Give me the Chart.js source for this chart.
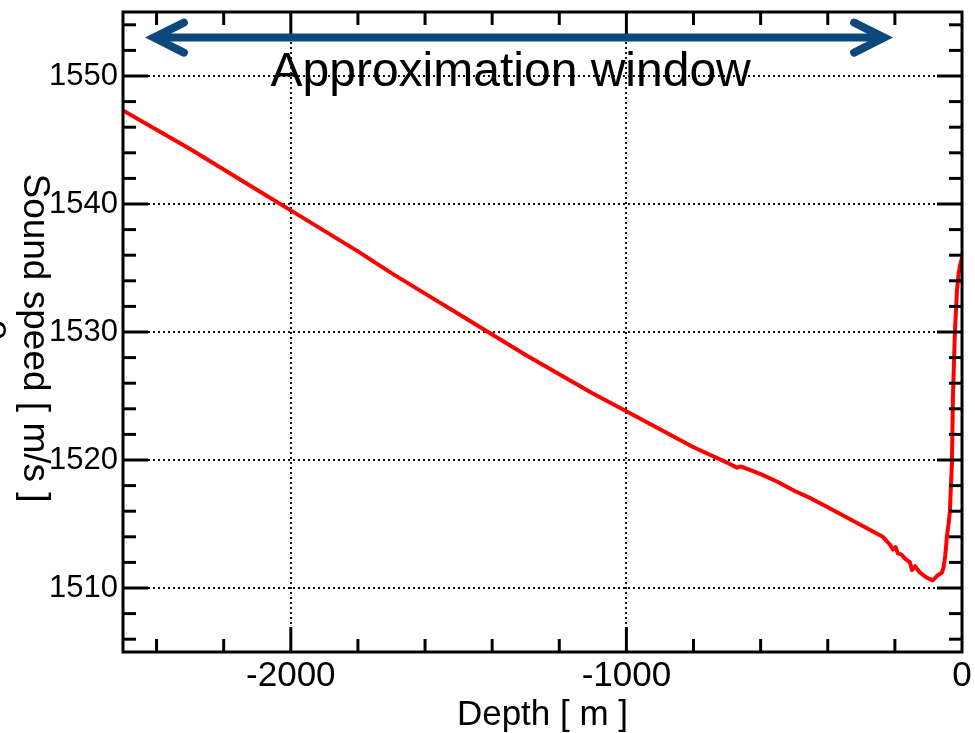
<!DOCTYPE html>
<html>
<head>
<meta charset="utf-8">
<title>Sound speed profile</title>
<script src="https://cdn.jsdelivr.net/npm/chart.js@4.4.0/dist/chart.umd.min.js"></script>
<style>
    body { margin: 0; background: #fff; overflow: hidden; }
    canvas { display: block; }
</style>
</head>
<body>
<canvas id="myChart" width="975" height="733"></canvas>
<script>

// depth [m] and sound speed [m/s]
const depth = [
    -2500, -2400, -2300, -2200, -2100, -2000, -1900, -1800, -1700, -1600,
    -1500, -1400, -1300, -1200, -1100, -1000, -900, -800, -700, -670,
    -660, -650, -640, -600, -550, -500, -450, -400, -350, -300,
    -250, -236, -215, -206, -198, -191, -180, -170, -155, -149,
    -140, -125, -104, -87, -72, -60, -55, -50, -45, -40,
    -36, -33, -30, -27, -21, -15, -10, -5, 0
];
const sound_speed = [
    1547.3, 1545.8, 1544.3, 1542.7, 1541.1, 1539.5, 1537.9, 1536.3, 1534.6, 1533.0,
    1531.4, 1529.8, 1528.2, 1526.7, 1525.2, 1523.8, 1522.4, 1521.0, 1519.8, 1519.4,
    1519.5, 1519.4, 1519.3, 1518.9, 1518.3, 1517.6, 1517.0, 1516.3, 1515.6, 1514.9,
    1514.2, 1514.0, 1513.4, 1513.0, 1513.2, 1512.7, 1512.6, 1512.3, 1512.0, 1511.4,
    1511.7, 1511.2, 1510.8, 1510.6, 1511.0, 1511.2, 1511.6, 1512.5, 1514.0, 1515.0,
    1516.0, 1518.0, 1519.8, 1524.9, 1530.1, 1533.2, 1534.6, 1535.3, 1535.8
];

const x_ticks = [-2000, -1000, 0];
const y_ticks = [1510, 1520, 1530, 1540, 1550];

// the approximation window arrow and its label
const window_from = -2408;
const window_to = -232;
const window_level = 1553;
const window_label = 'Approximation window';
const window_label_x = -1345;
const window_label_y = 1549.2;

const font_family = '"Liberation Sans", Arial, Helvetica, sans-serif';

function mark_line(ctx, x1, y1, x2, y2) {
    ctx.beginPath();
    ctx.moveTo(x1, y1);
    ctx.lineTo(x2, y2);
    ctx.stroke();
}

// frame, inward ticks, arrow, texts
const decorations = {
    id: 'decorations',
    afterDraw(chart) {
        const ctx = chart.ctx;
        const area = chart.chartArea;
        const xs = chart.scales.x;
        const ys = chart.scales.y;

        ctx.save();
        ctx.strokeStyle = '#000';
        ctx.lineWidth = 3;
        ctx.lineCap = 'butt';

        // x ticks on bottom and top
        for (let v = -2400; v < 0; v += 200) {
            const px = xs.getPixelForValue(v);
            const len = (v % 1000 === 0) ? 25 : 13;
            mark_line(ctx, px, area.bottom, px, area.bottom - len);
            mark_line(ctx, px, area.top, px, area.top + len);
        }
        // y ticks on left and right
        for (let v = 1506; v <= 1554; v += 2) {
            const py = ys.getPixelForValue(v);
            const len = (v % 10 === 0) ? 25 : 13;
            mark_line(ctx, area.left, py, area.left + len, py);
            mark_line(ctx, area.right, py, area.right - len, py);
        }

        ctx.strokeRect(area.left, area.top, area.right - area.left, area.bottom - area.top);

        // double arrow
        const ax1 = xs.getPixelForValue(window_from);
        const ax2 = xs.getPixelForValue(window_to);
        const ay = ys.getPixelForValue(window_level);
        ctx.strokeStyle = '#0c487c';
        ctx.lineWidth = 8;
        ctx.lineCap = 'round';
        ctx.lineJoin = 'miter';
        mark_line(ctx, ax1 + 4, ay, ax2 - 4, ay);
        ctx.beginPath();
        ctx.moveTo(ax1 + 30, ay - 15);
        ctx.lineTo(ax1, ay);
        ctx.lineTo(ax1 + 30, ay + 15);
        ctx.stroke();
        ctx.beginPath();
        ctx.moveTo(ax2 - 30, ay - 15);
        ctx.lineTo(ax2, ay);
        ctx.lineTo(ax2 - 30, ay + 15);
        ctx.stroke();

        ctx.fillStyle = '#000';
        ctx.font = '48px ' + font_family;
        ctx.textAlign = 'center';
        ctx.textBaseline = 'alphabetic';
        ctx.fillText(window_label, xs.getPixelForValue(window_label_x), ys.getPixelForValue(window_label_y));

        // y axis title, reading top to bottom
        ctx.font = '37px ' + font_family;
        ctx.save();
        ctx.translate(24, 338);
        ctx.rotate(Math.PI / 2);
        ctx.fillText('Sound speed [ m/s ]', 0, 0);
        ctx.restore();
        // clipped letter at the very left edge
        ctx.save();
        ctx.translate(-14, 330);
        ctx.rotate(Math.PI / 2);
        ctx.fillText('e', 0, 0);
        ctx.restore();

        ctx.restore();
    }
};

let points = [];
for (let i = 0; i < depth.length; i = i + 1) {
    points.push({ x: depth[i], y: sound_speed[i] });
}

function plain_number(value) {
    return String(value);
}

const ctx = document.getElementById('myChart').getContext('2d');
const myChart = new Chart(ctx, {
    type: 'line',
    data: {
        datasets: [{
            label: 'Sound speed',
            data: points,
            borderColor: '#ff0000',
            borderWidth: 4,
            pointRadius: 0,
            tension: 0,
            borderJoinStyle: 'round',
            fill: false
        }]
    },
    options: {
        responsive: false,
        animation: false,
        devicePixelRatio: 1,
        layout: { padding: { top: 12, right: 13, left: 0, bottom: 0 } },
        plugins: {
            legend: { display: false },
            tooltip: { enabled: false }
        },
        scales: {
            x: {
                type: 'linear',
                min: -2500,
                max: 0,
                afterBuildTicks: function (scale) {
                    scale.ticks = x_ticks.map(v => ({ value: v }));
                },
                afterFit: function (scale) {
                    scale.height = 81;
                    scale.paddingLeft = 0;
                    scale.paddingRight = 0;
                },
                grid: {
                    color: '#111',
                    lineWidth: 2,
                    drawTicks: false
                },
                border: { display: false, dash: [2, 3] },
                ticks: {
                    color: '#000',
                    padding: 3,
                    maxRotation: 0,
                    callback: plain_number,
                    font: { family: font_family, size: 35 }
                },
                title: {
                    display: true,
                    text: 'Depth [ m ]',
                    color: '#000',
                    font: { family: font_family, size: 35, lineHeight: 1 },
                    padding: { top: 0, bottom: 0 }
                }
            },
            y: {
                type: 'linear',
                min: 1505,
                max: 1555,
                afterBuildTicks: function (scale) {
                    scale.ticks = y_ticks.map(v => ({ value: v }));
                },
                afterFit: function (scale) {
                    scale.width = 123;
                    scale.paddingTop = 0;
                    scale.paddingBottom = 0;
                },
                grid: {
                    color: '#111',
                    lineWidth: 2,
                    drawTicks: false
                },
                border: { display: false, dash: [2, 3] },
                ticks: {
                    color: '#000',
                    padding: 5,
                    callback: plain_number,
                    font: { family: font_family, size: 31 }
                }
            }
        }
    },
    plugins: [decorations]
});
</script>
</body>
</html>
